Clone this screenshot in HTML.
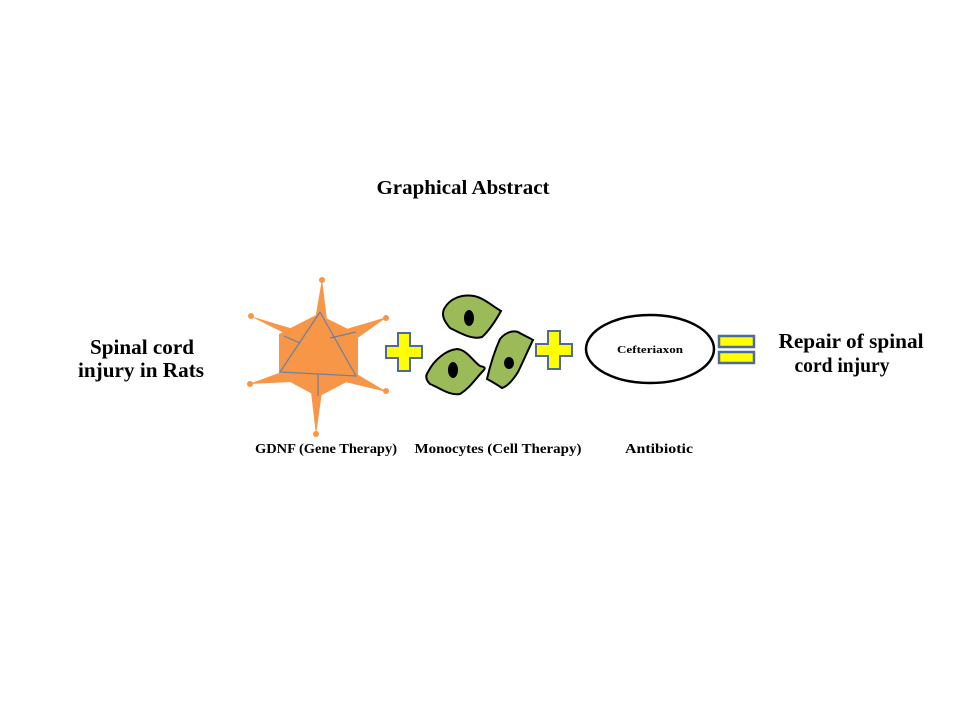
<!DOCTYPE html>
<html><head><style>
body{margin:0;background:#fff;}
svg text{font-family:"Liberation Serif",serif;font-weight:bold;fill:#000;}
</style></head><body>
<svg width="960" height="720" viewBox="0 0 960 720" xmlns="http://www.w3.org/2000/svg">
<rect width="960" height="720" fill="#fff"/>
<text x="463" y="194" font-size="20" text-anchor="middle" textLength="173" lengthAdjust="spacingAndGlyphs">Graphical Abstract</text>
<text x="142" y="354" font-size="21" text-anchor="middle" textLength="104" lengthAdjust="spacingAndGlyphs">Spinal cord</text>
<text x="141" y="377" font-size="21" text-anchor="middle" textLength="126" lengthAdjust="spacingAndGlyphs">injury in Rats</text>
<text x="851" y="348" font-size="21" text-anchor="middle" textLength="145" lengthAdjust="spacingAndGlyphs">Repair of spinal</text>
<text x="842" y="372" font-size="21" text-anchor="middle" textLength="95" lengthAdjust="spacingAndGlyphs">cord injury</text>

<!-- virus -->
<g fill="#f79646" stroke="none">
<polygon points="318,314 358,334 358,376 318,397 279,376 279,334"/>
<polygon points="315,320 322,279 327,320"/>
<polygon points="311,392 316,435 322,392"/>
<polygon points="290,328 250,316 298,340"/>
<polygon points="343,330 387,317 352,342"/>
<polygon points="287,370 249,384 292,382"/>
<polygon points="345,382 387,392 350,370"/>
<circle cx="322" cy="280" r="3"/><circle cx="316" cy="434" r="3"/>
<circle cx="251" cy="316" r="3"/><circle cx="386" cy="318" r="3"/>
<circle cx="250" cy="384" r="3"/><circle cx="386" cy="391" r="3"/>
</g>
<g stroke="#6b7fa6" stroke-width="1.2" fill="none">
<polyline points="320,312 280,372 356,376 320,312"/>
<line x1="318" y1="374" x2="318" y2="396"/>
<line x1="330" y1="338" x2="356" y2="332"/>
<line x1="300" y1="343" x2="284" y2="336"/>
</g>

<!-- plus signs -->
<g fill="#ffff00" stroke="#4f6a9a" stroke-width="2">
<path d="M398,333h12v13h12v12h-12v13h-12v-13h-12v-12h12z"/>
<path d="M548,331h12v13h12v12h-12v13h-12v-13h-12v-12h12z"/>
</g>

<!-- cells -->
<g fill="#9bbb59" stroke="#000" stroke-width="2">
<path d="M444,309 C450,298 462,294 474,296 C484,298 492,306 501,311 C496,320 490,330 482,337 C472,340 460,333 450,328 C445,322 441,316 444,309 Z"/>
<path d="M428,372 C434,360 446,350 457,349 C467,350 472,360 480,366 C485,367 486,368 483,371 C476,378 470,388 460,394 C450,396 440,388 430,384 C426,380 425,376 428,372 Z"/>
<path d="M500,339 C505,333 512,330 518,332 C523,335 528,337 533,340 C528,350 523,362 518,372 C513,380 508,386 502,388 C496,384 491,381 487,379 C490,366 495,350 500,339 Z"/>
</g>
<g fill="#000">
<ellipse cx="469" cy="318" rx="5" ry="8"/>
<ellipse cx="453" cy="370" rx="5" ry="8"/>
<ellipse cx="509" cy="363" rx="5" ry="6"/>
</g>

<!-- antibiotic -->
<ellipse cx="650" cy="349" rx="64" ry="34" fill="#fff" stroke="#000" stroke-width="2.5"/>
<text x="650" y="353" font-size="11" text-anchor="middle" textLength="66" lengthAdjust="spacingAndGlyphs">Cefteriaxon</text>

<!-- equals -->
<g fill="#ffff00" stroke="#4f6a9a" stroke-width="2.5">
<rect x="719" y="336" width="35" height="11"/>
<rect x="719" y="352" width="35" height="11"/>
</g>

<text x="326" y="453" font-size="14" text-anchor="middle" textLength="142" lengthAdjust="spacingAndGlyphs">GDNF  (Gene Therapy)</text>
<text x="498" y="453" font-size="14" text-anchor="middle" textLength="167" lengthAdjust="spacingAndGlyphs">Monocytes   (Cell Therapy)</text>
<text x="659" y="453" font-size="14" text-anchor="middle" textLength="68" lengthAdjust="spacingAndGlyphs">Antibiotic</text>
</svg>
</body></html>
